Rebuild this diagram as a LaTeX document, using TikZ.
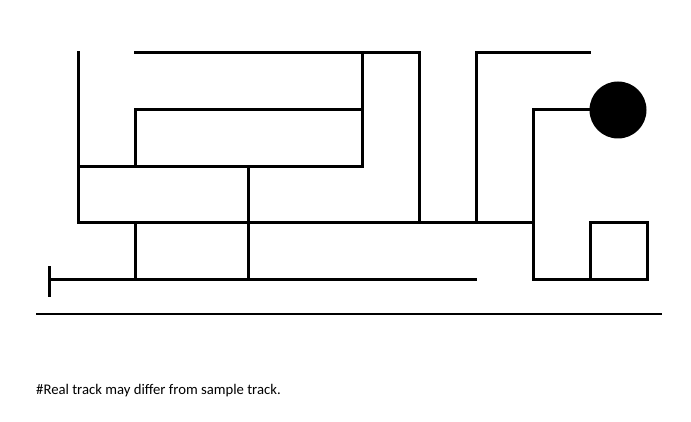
\documentclass[tikz,border=0pt]{standalone}
\usepackage{fontspec}
\setmainfont{Carlito}
\begin{document}
\begin{tikzpicture}[x=1pt,y=-1pt,
  wall/.style={line width=3pt,line cap=rect,line join=miter},
  rule/.style={line width=2.8pt},
  note/.style={anchor=base west,inner sep=0pt,font=\fontsize{14.7}{17}\selectfont}]
\useasboundingbox (0,0) rectangle (691,422);
% maze walls
\draw[wall] (78,53) -- (78,223);
\draw[wall] (135,53) -- (419,53) -- (419,223);
\draw[wall] (362,53) -- (362,167);
\draw[wall] (135,167) -- (135,110) -- (362,110);
\draw[wall] (78,167) -- (362,167);
\draw[wall] (248,167) -- (248,280);
\draw[wall] (78,223) -- (533,223);
\draw[wall] (135,223) -- (135,280);
\draw[wall] (49,280) -- (475,280);
\draw[wall] (49,268) -- (49,295);
\draw[wall] (476,223) -- (476,53) -- (589,53);
\draw[wall] (590,110) -- (533,110) -- (533,280) -- (647,280) -- (647,223) -- (590,223) -- (590,280);
% goal ball
\node[circle,fill=black,minimum size=57pt,inner sep=0pt] (ball) at (618,110) {};
% separator and note
\coordinate (ruleL) at (36,314);
\coordinate (ruleR) at (662,314);
\draw[rule] (ruleL) -- (ruleR);
\node[note] (txt) at (36,394) {\#Real track may differ from sample track.};
\end{tikzpicture}
\end{document}
